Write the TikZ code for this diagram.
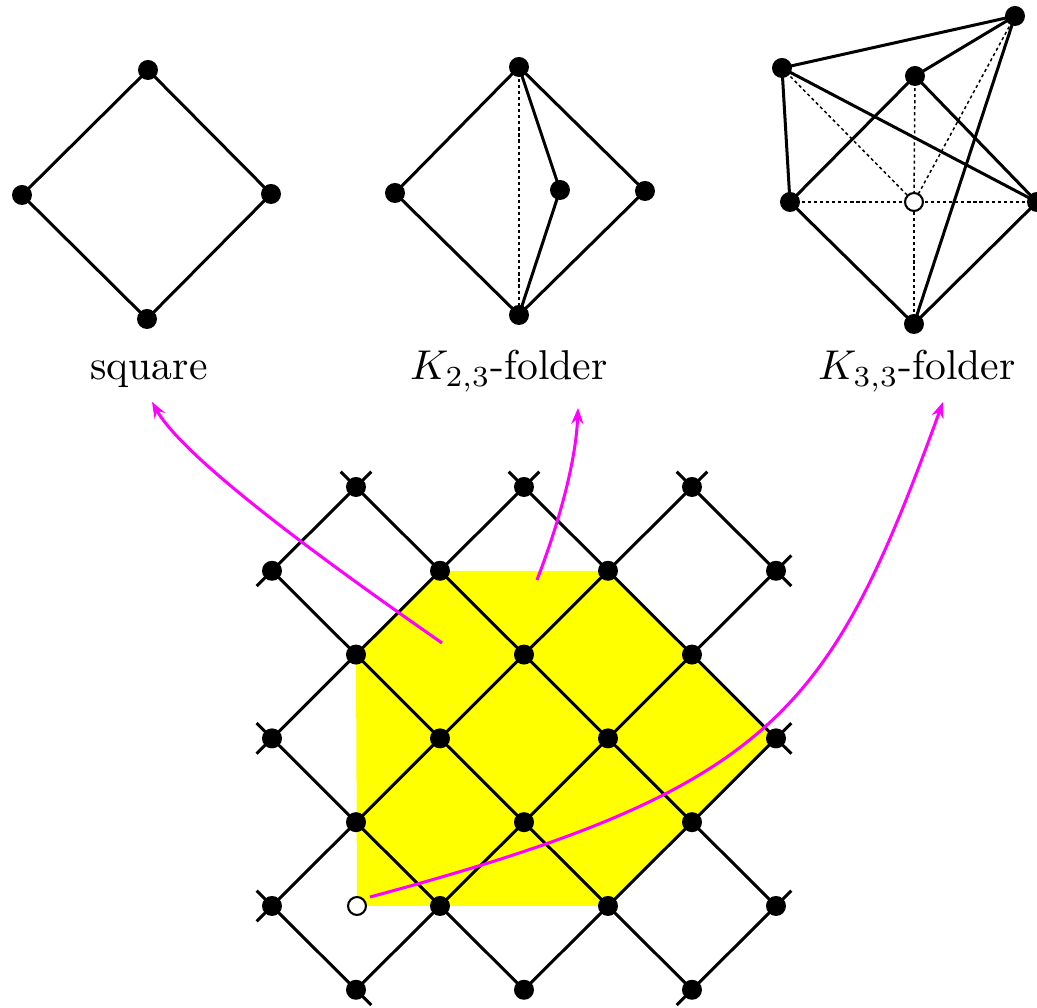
\documentclass[tikz,border=0pt]{standalone}
\usetikzlibrary{arrows.meta}
\pgfdeclarelayer{bg}
\pgfsetlayers{bg,main}
\definecolor{mag}{RGB}{255,0,255}
\definecolor{yel}{RGB}{255,255,0}
\begin{document}
\begin{tikzpicture}[x=0.24pt,y=-0.24pt,
  vdot/.style={circle,fill=black,inner sep=0pt,minimum size=4.8pt},
  hdot/.style={circle,draw=black,fill=white,line width=0.5pt,inner sep=0pt,minimum size=4.3pt},
  gedge/.style={line width=0.72pt,line join=round},
  gdash/.style={line width=0.36pt,dash pattern=on 0.75pt off 0.7pt},
  lat/.style={line width=0.72pt},
  stubA/.style={shorten <=-5.2pt},
  stubB/.style={shorten >=-5.2pt},
  pink/.style={mag,line width=0.72pt,-{Stealth[length=3.8pt,width=2.9pt]}},
  lbl/.style={anchor=base,inner sep=0pt}]

\useasboundingbox (0,0) rectangle (1037,1008);
\clip (0,0) rectangle (1037,1008);

% ---------- square ----------
\node[vdot] (sT) at (148,70) {};
\node[vdot] (sL) at (22,195) {};
\node[vdot] (sR) at (271,194) {};
\node[vdot] (sB) at (147,319) {};
\node[lbl] (lsq) at (149,380) {square};

% ---------- K23 folder ----------
\node[vdot] (kT) at (519,67) {};
\node[vdot] (kL) at (395,193) {};
\node[vdot] (kI) at (560,190) {};
\node[vdot] (kR) at (645,191) {};
\node[vdot] (kB) at (519,315) {};
\node[lbl] (lk23) at (509,380) {$K_{2,3}$-folder};

% ---------- K33 folder ----------
\node[vdot] (mA) at (782,68) {};
\node[vdot] (mB) at (1015,16) {};
\node[vdot] (mC) at (915,76) {};
\node[vdot] (mD) at (790,202) {};
\node[hdot] (mE) at (914,202) {};
\node[vdot] (mF) at (1037,202) {};
\node[vdot] (mG) at (914,324) {};
\node[lbl] (lk33) at (917,380) {$K_{3,3}$-folder};

% ---------- lattice ----------
\foreach \i in {0,...,6}{
  \foreach \k in {0,...,6}{
    \pgfmathtruncatemacro{\mysum}{\i+\k}
    \ifodd\mysum
      \node[vdot] (p\i\k) at ({272+84*\i},{906-83.8*(\k-1)}) {};
    \fi
  }
}
\node[hdot] (h0) at (357,906) {};

\begin{pgfonlayer}{bg}
  % yellow region
  \fill[yel] (h0.center) -- (p41.center) -- (p63.center) -- (p45.center)
     -- (p25.center) -- (p14.center) -- cycle;

  % top graphs
  \draw[gedge] (sT.center) -- (sL.center) -- (sB.center) -- (sR.center) -- cycle;

  \draw[gedge] (kT.center) -- (kL.center) -- (kB.center) -- (kR.center) -- cycle;
  \draw[gedge] (kT.center) -- (kI.center) -- (kB.center);
  \draw[gdash] (kT.center) -- (kB.center);

  \draw[gdash] (mA.center) -- (mE.center);
  \draw[gdash] (mC.center) -- (mE.center);
  \draw[gdash] (mB.center) -- (mE.center);
  \draw[gdash] (mD.center) -- (mE.center);
  \draw[gdash] (mF.center) -- (mE.center);
  \draw[gdash] (mG.center) -- (mE.center);
  \draw[gedge] (mB.center) -- (mA.center) -- (mD.center);
  \draw[gedge] (mA.center) -- (mF.center);
  \draw[gedge] (mB.center) -- (mC.center) -- (mD.center) -- (mG.center) -- (mF.center) -- (mC.center);
  \draw[gedge] (mB.center) -- (mG.center);

  % lattice lines, up-right
  \draw[lat,stubA,stubB] (p05.center) -- (p16.center);
  \draw[lat,stubA,stubB] (p03.center) -- (p36.center);
  \draw[lat,stubA,stubB] (p01.center) -- (p56.center);
  \draw[lat,stubB] (p10.center) -- (p65.center);
  \draw[lat,stubB] (p30.center) -- (p63.center);
  \draw[lat,stubA,stubB] (p50.center) -- (p61.center);
  % lattice lines, down-right
  \draw[lat,stubA,stubB] (p01.center) -- (p10.center);
  \draw[lat,stubA] (p03.center) -- (p30.center);
  \draw[lat] (p05.center) -- (p50.center);
  \draw[lat,stubA] (p16.center) -- (p61.center);
  \draw[lat,stubA,stubB] (p36.center) -- (p63.center);
  \draw[lat,stubA,stubB] (p56.center) -- (p65.center);
\end{pgfonlayer}

% ---------- magenta arrows ----------
\coordinate (a1s) at (442,643);
\coordinate (a1e) at (152,402);
\coordinate (a2s) at (537,580);
\coordinate (a2e) at (578,408);
\coordinate (a3s) at (370,897);
\coordinate (a3e) at (943,402);
\draw[pink] (a1s) .. controls (330,565) and (185,460) .. (a1e);
\draw[pink] (a2s) .. controls (560,520) and (576,460) .. (a2e);
\draw[pink] (a3s) .. controls (776,788) and (830,712) .. (a3e);
\end{tikzpicture}
\end{document}
